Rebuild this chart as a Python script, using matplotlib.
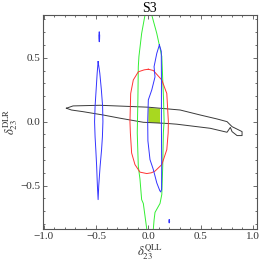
import numpy as np
import matplotlib.pyplot as plt
from matplotlib.ticker import MultipleLocator

plt.rcParams['font.family'] = ['Liberation Serif', 'DejaVu Serif']
plt.rcParams['mathtext.fontset'] = 'stix'

# contour outlines (x = delta23 QLL, y = delta23 DLR)
blue_left_x = [-0.481, -0.49, -0.50, -0.51, -0.515, -0.51, -0.503, -0.495, -0.488, -0.481,
               -0.475, -0.462, -0.448, -0.440, -0.435, -0.438, -0.450, -0.465, -0.481]
blue_left_y = [0.47, 0.38, 0.25, 0.12, 0.0, -0.12, -0.22, -0.35, -0.50, -0.61,
               -0.50, -0.35, -0.22, -0.12, 0.0, 0.12, 0.25, 0.38, 0.47]

blue_dot_top_x = [-0.47, -0.466, -0.467, -0.47, -0.473, -0.474, -0.47]
blue_dot_top_y = [0.70, 0.675, 0.645, 0.625, 0.645, 0.675, 0.70]

blue_dot_low_x = [0.20, 0.204, 0.20, 0.196, 0.20]
blue_dot_low_y = [-0.768, -0.78, -0.792, -0.78, -0.768]

blue_mid_x = [0.106, 0.081, 0.055, 0.064, 0.033, 0.0, -0.006, -0.004, 0.016, 0.048, 0.081,
              0.110, 0.119, 0.127, 0.128, 0.126, 0.125, 0.126, 0.124, 0.106]
blue_mid_y = [0.60, 0.534, 0.43, 0.35, 0.248, 0.17, 0.0, -0.15, -0.297, -0.375, -0.479,
              -0.54, -0.55, -0.53, -0.35, -0.10, 0.0, 0.30, 0.55, 0.60]

green_x = [0.0, -0.032, -0.064, -0.09, -0.096, -0.10, -0.104, -0.106, -0.096, -0.08, -0.064,
           -0.048, -0.015, 0.02, 0.048, 0.055, 0.064, 0.112, 0.129, 0.138, 0.144, 0.151,
           0.146, 0.129, 0.081, 0.033, 0.0]
green_y = [0.88, 0.834, 0.69, 0.51, 0.43, 0.17, 0.0, -0.088, -0.35, -0.45, -0.61,
           -0.64, -0.84, -0.95, -0.84, -0.77, -0.71, -0.64, -0.57, -0.35, -0.088, 0.0,
           0.17, 0.51, 0.69, 0.834, 0.88]

red_x = [0.0, -0.04, -0.096, -0.144, -0.169, -0.176, -0.172, -0.16, -0.128, -0.08, -0.015,
         0.03, 0.064, 0.129, 0.177, 0.19, 0.192, 0.177, 0.129, 0.048, 0.0]
red_y = [0.41, 0.405, 0.39, 0.326, 0.22, 0.0, -0.088, -0.245, -0.336, -0.395, -0.406,
         -0.40, -0.387, -0.336, -0.219, -0.088, 0.0, 0.22, 0.326, 0.40, 0.41]

black_x = [-0.785, -0.721, -0.464, 0.0, 0.305, 0.497, 0.658, 0.754, 0.802, 0.834, 0.898,
           0.898, 0.85, 0.802, 0.786, 0.754, 0.593, 0.273, 0.177, -0.048, -0.272, -0.433,
           -0.625, -0.737, -0.785]
black_y = [0.105, 0.123, 0.128, 0.113, 0.091, 0.052, 0.021, 0.0, -0.039, -0.052, -0.078,
           -0.109, -0.109, -0.078, -0.045, -0.083, -0.052, -0.02, -0.014, -0.005, 0.027, 0.052,
           0.078, 0.091, 0.105]

# allowed region (filled)
fill_x = [0.0, 0.112, 0.112, 0.0]
fill_y = [0.108, 0.102, -0.012, -0.006]

fig = plt.figure(figsize=(2.6, 2.66), dpi=100)
ax = fig.add_axes([0.165, 0.139, 0.823, 0.805])

ax.fill(fill_x, fill_y, color='#a8d820', lw=0)
ax.plot(black_x, black_y, color='#3a3a3a', lw=0.7)
ax.plot(green_x, green_y, color='#33ee33', lw=0.7)
ax.plot(red_x, red_y, color='#ff3333', lw=0.7)
for bx, by in [(blue_left_x, blue_left_y), (blue_dot_top_x, blue_dot_top_y),
               (blue_dot_low_x, blue_dot_low_y), (blue_mid_x, blue_mid_y)]:
    ax.plot(bx, by, color='#3333ff', lw=0.7)

ax.set_xlim(-1.01, 1.04)
ax.set_ylim(-0.84, 0.835)
ax.xaxis.set_major_locator(MultipleLocator(0.5))
ax.xaxis.set_minor_locator(MultipleLocator(0.1))
ax.yaxis.set_major_locator(MultipleLocator(0.5))
ax.yaxis.set_minor_locator(MultipleLocator(0.1))
ax.tick_params(which='both', direction='in', top=True, right=True, colors='#555555',
               labelcolor='#333333', labelsize=8, width=0.6)
ax.tick_params(which='major', length=3, pad=2)
ax.tick_params(which='minor', length=1.5)
for s in ax.spines.values():
    s.set_color('#555555')
    s.set_linewidth(0.8)

ax.set_title('S3', fontsize=10, pad=2)
ax.set_xlabel(r'$\delta_{23}^{\rm QLL}$', fontsize=9, color='#333333', labelpad=1)
ax.set_ylabel(r'$\delta_{23}^{\rm DLR}$', fontsize=9, color='#333333', labelpad=0)

fig.savefig('out.png', dpi=100)
